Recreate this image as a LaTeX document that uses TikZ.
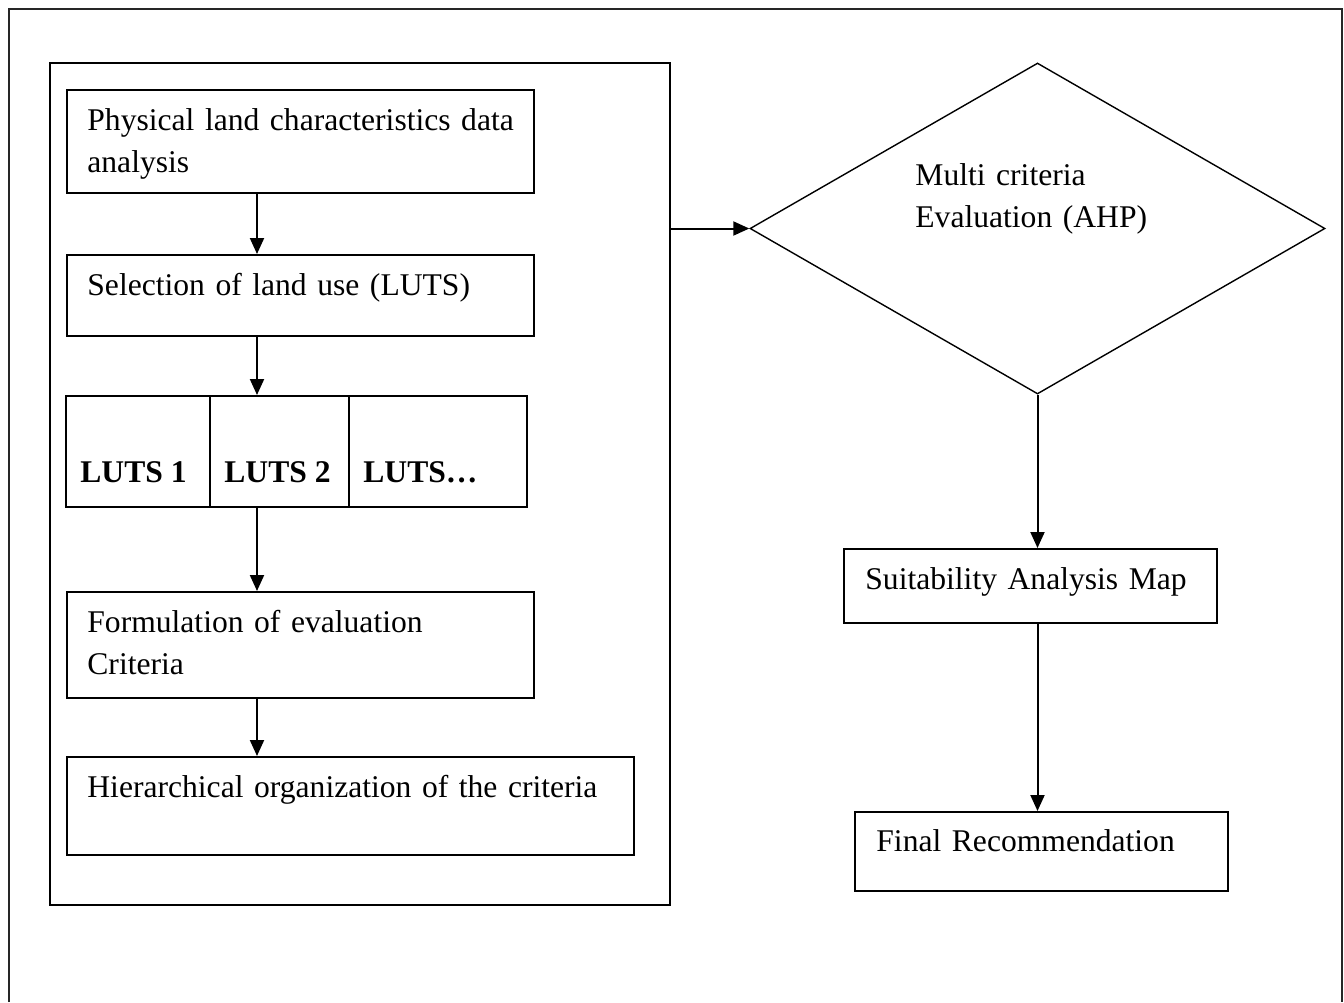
\documentclass[tikz,border=0pt]{standalone}
\usepackage{fontspec}
\setmainfont{Liberation Serif}
\usetikzlibrary{shapes.geometric,arrows.meta,positioning}

\begin{document}
\begin{tikzpicture}[x=0.5pt, y=-0.5pt,
    box/.style={draw, rectangle, line width=1pt, inner sep=0pt, minimum width=233.5pt},
    txt/.style={anchor=base west, inner sep=0pt, align=left, text width=300pt, font=\fontsize{15.8}{21}\selectfont},
    lutstxt/.style={anchor=base west, inner sep=0pt, font=\fontsize{15.8}{21}\selectfont\bfseries},
    arr/.style={-{Triangle[length=8pt,width=7pt]}, line width=1pt}]

    \useasboundingbox (0,0) rectangle (1344,1002);

    % Outer frame (bottom edge runs off the page)
    \draw[line width=0.8pt, black!85] (9,1002) -- (9,9) -- (1342,9) -- (1342,1002);

    % Left container
    \node[draw, line width=0.8pt, inner sep=0pt, minimum width=310pt, minimum height=421pt] (stage) at (360,484) {};

    % Boxes of the left column
    \node[box, minimum height=51.5pt] (phys) at (300.5,141.5) {};
    \node[box, minimum height=40.5pt] (landuse) at (300.5,295.5) {};
    \node[box, minimum width=72pt, minimum height=55.5pt] (luts1) at (138,451.5) {};
    \node[box, minimum width=69.5pt, minimum height=55.5pt, right=-1pt of luts1] (luts2) {};
    \node[box, minimum width=89pt, minimum height=55.5pt, right=-1pt of luts2] (luts3) {};
    \node[box, minimum height=53pt] (crit) at (300.5,645) {};
    \node[box, minimum width=283.5pt, minimum height=49pt] (hier) at (350.5,806) {};

    % Texts of the left column
    \node[txt] (physT) at (87,130) {Physical land characteristics data\\analysis};
    \node[txt] (landuseT) at (87,295) {Selection of land use (LUTS)};
    \node[lutstxt] (luts1T) at (80,482) {LUTS 1};
    \node[lutstxt] (luts2T) at (224,482) {LUTS 2};
    \node[lutstxt] (luts3T) at (363,482) {LUTS…};
    \node[txt] (critT) at (87,632) {Formulation of evaluation\\Criteria};
    \node[txt] (hierT) at (87,797) {Hierarchical organization of the criteria};

    % Right column
    \node[draw, diamond, line width=0.7pt, inner sep=0pt, minimum width=287.5pt, minimum height=165.5pt] (ahp) at (1037.5,228.5) {};
    \node[txt] (ahpT) at (915,185) {Multi criteria\\Evaluation (AHP)};
    \node[box, minimum width=186.5pt, minimum height=37pt] (suit) at (1030.5,586) {};
    \node[txt] (suitT) at (865,589) {Suitability Analysis Map};
    \node[box, minimum width=186.5pt, minimum height=39.5pt] (final) at (1041.5,851.5) {};
    \node[txt] (finalT) at (876,851) {Final Recommendation};

    % Arrows
    \coordinate (spine) at (257,0);
    \draw[arr] (phys.south -| spine) -- (landuse.north -| spine);
    \draw[arr] (landuse.south -| spine) -- (luts2.north -| spine);
    \draw[arr] (luts2.south -| spine) -- (crit.north -| spine);
    \draw[arr] (crit.south -| spine) -- (hier.north -| spine);
    \draw[arr] (stage.east |- ahp.west) -- (ahp.west);
    \draw[arr] (ahp.south) -- (suit.north -| ahp.south);
    \draw[arr] (suit.south -| ahp.south) -- (final.north -| ahp.south);

\end{tikzpicture}
\end{document}
